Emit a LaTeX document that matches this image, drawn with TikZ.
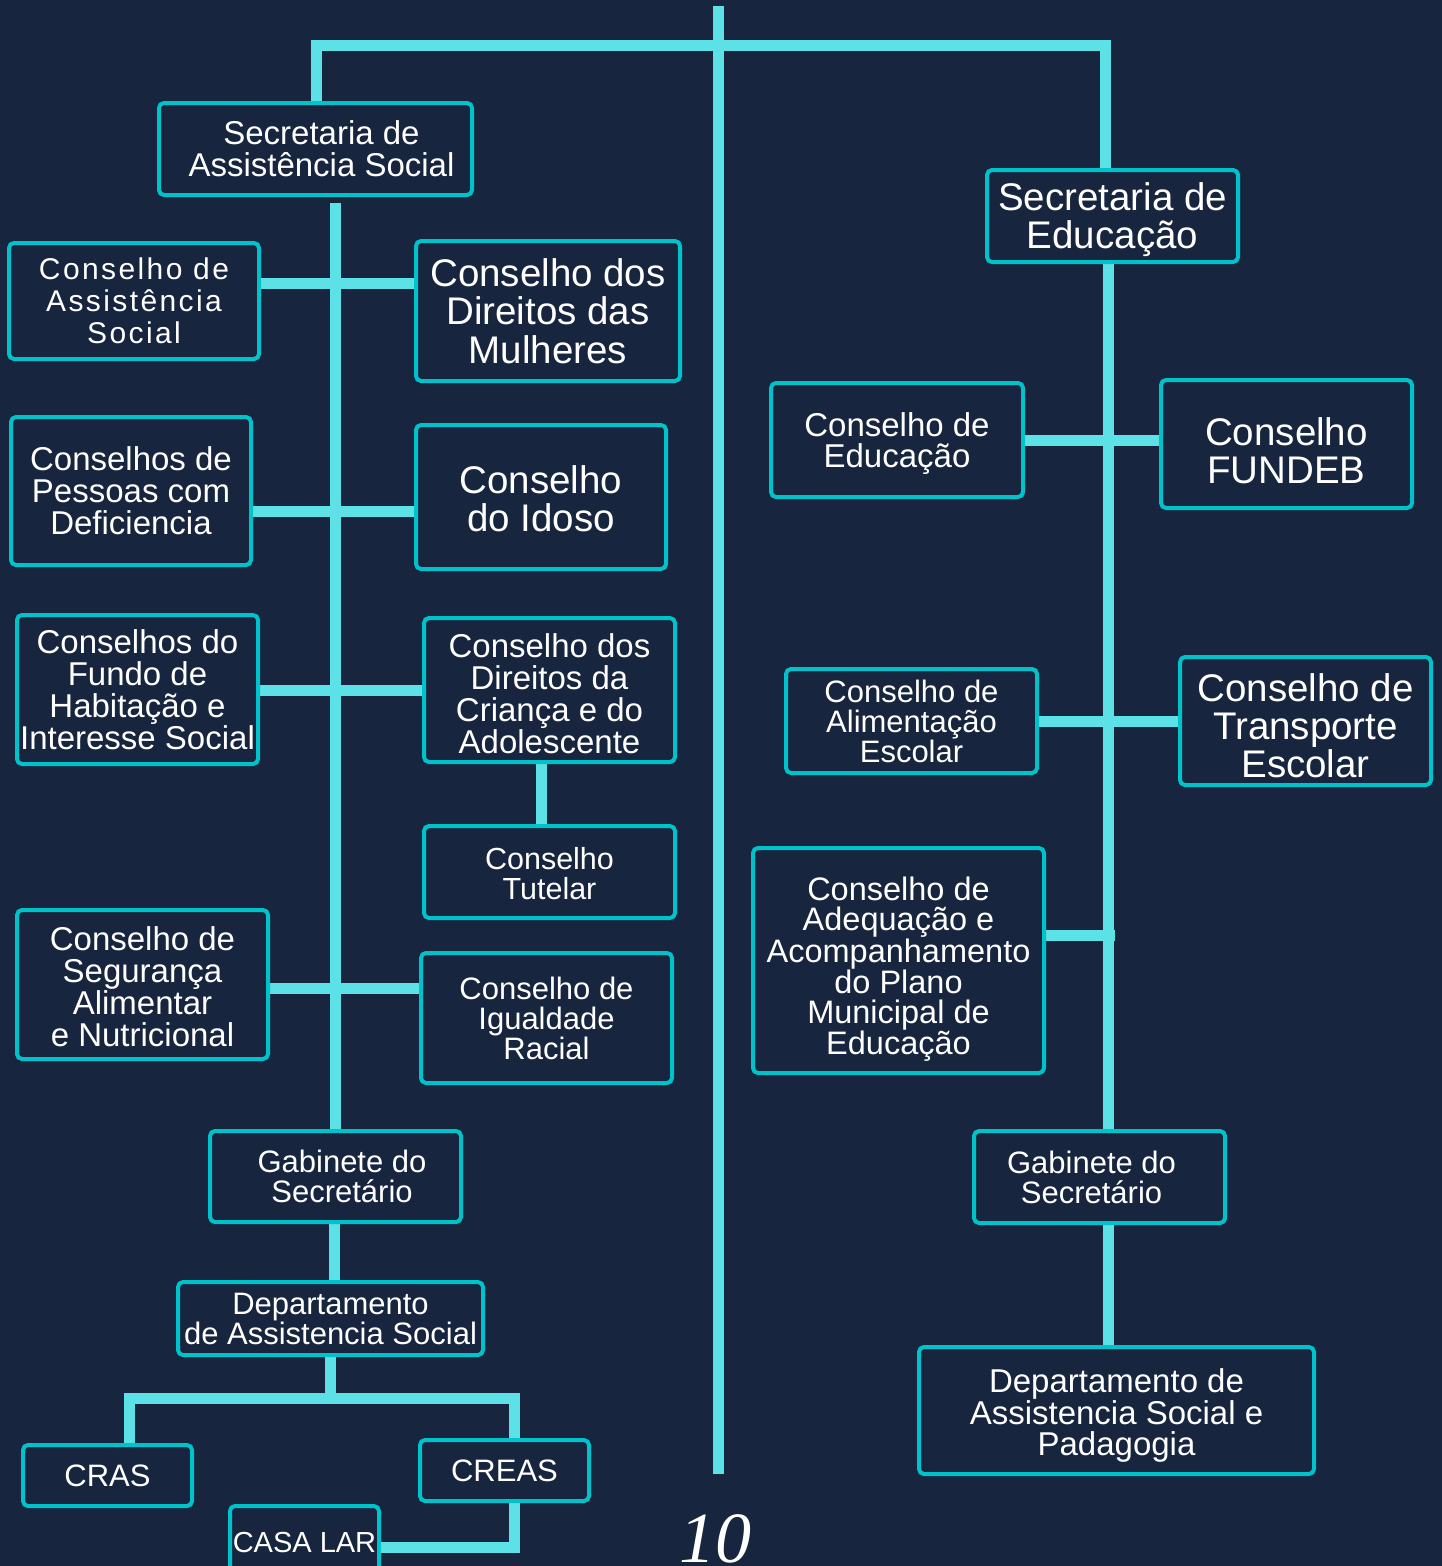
\documentclass[tikz,border=0pt]{standalone}
\usepackage{fontspec}
\setmainfont{Liberation Sans}
\newfontfamily\lsfont{Liberation Sans}[LetterSpace=8]
\newfontfamily\pgnum{Liberation Serif}
\usetikzlibrary{calc}
\definecolor{bgc}{HTML}{17253F}
\definecolor{linec}{HTML}{5CE1E6}
\definecolor{boxc}{HTML}{00C2CB}
\pgfdeclarelayer{back}
\pgfdeclarelayer{bg}
\pgfsetlayers{back,bg,main}
\newcommand\tdn[1]{\leavevmode\vrule width 0pt height \dimexpr0.73em+#1pt\relax}
\begin{document}
\begin{tikzpicture}[x=1pt,y=-1pt,
 box/.style={draw=boxc, line width=4pt, rounded corners=5pt, fill=bgc, text=white, align=center, inner sep=0pt},
 conn/.style={draw=linec, line width=11pt},
]
\begin{pgfonlayer}{back}
\fill[bgc] (0,0) rectangle (1442,1566);
\end{pgfonlayer}
\useasboundingbox (0,0) rectangle (1442,1566);

% ---------- left side boxes ----------
\node[box, minimum width=313pt, minimum height=92pt, font=\fontsize{33}{32}\selectfont] (secas) at (315.5,149) {\hspace*{12pt}Secretaria de\\\hspace*{12pt}Assistência Social};
\node[box, minimum width=250pt, minimum height=116pt, font=\lsfont\fontsize{30}{32}\selectfont] (cas) at (134,301) {Conselho de\\Assistência\\Social};
\node[box, minimum width=264pt, minimum height=140pt, font=\fontsize{38.5}{38.5}\selectfont] (mulh) at (548,311) {Conselho dos\\Direitos das\\Mulheres};
\node[box, minimum width=240pt, minimum height=148pt, font=\fontsize{33}{32}\selectfont] (pcd) at (131,491) {Conselhos de\\Pessoas com\\Deficiencia};
\node[box, minimum width=250pt, minimum height=144pt, font=\fontsize{38.5}{38}\selectfont] (idoso) at (541,497) {\tdn{4}Conselho\\do Idoso};
\node[box, minimum width=241pt, minimum height=149pt, font=\fontsize{33}{32}\selectfont] (hab) at (137.5,689.5) {Conselhos do\\Fundo de\\Habitação e\\Interesse Social};
\node[box, minimum width=251pt, minimum height=144pt, font=\fontsize{33}{32}\selectfont] (crianca) at (549.5,690) {\tdn{8}Conselho dos\\Direitos da\\Criança e do\\Adolescente};
\node[box, minimum width=251pt, minimum height=92pt, font=\fontsize{30.5}{30}\selectfont] (tutelar) at (549.5,872) {\tdn{4}Conselho\\Tutelar};
\node[box, minimum width=251pt, minimum height=149pt, font=\fontsize{33}{32}\selectfont] (seg) at (142.5,984.5) {\tdn{4}Conselho de\\Segurança\\Alimentar\\e Nutricional};
\node[box, minimum width=251pt, minimum height=130pt, font=\fontsize{31}{30}\selectfont] (igual) at (546.5,1018) {Conselho de\\Igualdade\\Racial};
\node[box, minimum width=251pt, minimum height=91pt, font=\fontsize{31}{30}\selectfont] (gabl) at (335.5,1176.5) {\hspace*{13pt}Gabinete do\\\hspace*{13pt}Secretário};
\node[box, minimum width=305pt, minimum height=73pt, font=\fontsize{31}{30}\selectfont] (depl) at (330.5,1318.5) {Departamento\\de Assistencia Social};
\node[box, minimum width=169pt, minimum height=61pt, font=\fontsize{31}{30}\selectfont] (cras) at (107.5,1475.5) {CRAS};
\node[box, minimum width=169pt, minimum height=61pt, font=\fontsize{31}{30}\selectfont] (creas) at (504.5,1470.5) {CREAS};
\node[box, minimum width=149pt, minimum height=72pt, font=\fontsize{29}{30}\selectfont] (casa) at (304.5,1542) {CASA LAR};

% ---------- right side boxes ----------
\node[box, minimum width=251pt, minimum height=92pt, font=\fontsize{38.5}{38}\selectfont] (secedu) at (1112.5,216) {\tdn{8}Secretaria de\\Educação};
\node[box, minimum width=252pt, minimum height=114pt, font=\fontsize{33}{31}\selectfont] (cedu) at (897,440) {\tdn{6}Conselho de\\Educação};
\node[box, minimum width=251pt, minimum height=128pt, font=\fontsize{38.5}{38}\selectfont] (fundeb) at (1286.5,444) {\tdn{14}Conselho\\FUNDEB};
\node[box, minimum width=251pt, minimum height=104pt, font=\fontsize{31}{30}\selectfont] (alim) at (911.5,721) {Conselho de\\Alimentação\\Escolar};
\node[box, minimum width=251pt, minimum height=128pt, font=\fontsize{38.5}{38}\selectfont] (transp) at (1305.5,721) {\tdn{10}Conselho de\\Transporte\\Escolar};
\node[box, minimum width=291pt, minimum height=225pt, font=\fontsize{32.5}{30}\selectfont] (adeq) at (898.5,960.5) {\tdn{18}Conselho de\\Adequação e\\Acompanhamento\\do Plano\\Municipal de\\Educação};
\node[box, minimum width=251pt, minimum height=92pt, font=\fontsize{31}{30}\selectfont] (gabr) at (1099.5,1177) {Gabinete do\hspace*{16pt}\\Secretário\hspace*{16pt}};
\node[box, minimum width=395pt, minimum height=127pt, font=\fontsize{33}{31.5}\selectfont] (depr) at (1116.5,1410.5) {\tdn{10}Departamento de\\Assistencia Social e\\Padagogia};

% page number
\node[anchor=base, text=white, inner sep=0pt, font=\pgnum\itshape\fontsize{72}{72}\selectfont] (pnum) at (715,1562) {10};

% ---------- connectors ----------
\coordinate (cT) at (718,6);
\coordinate (cB) at (718,1474);
\coordinate (topL) at (316,45);
\coordinate (topR) at (1105,45);
\coordinate (spL) at (335,0);
\coordinate (spR) at (1108,0);
\coordinate (b1) at (335,283);
\coordinate (b2) at (335,511);
\coordinate (b3) at (335,690);
\coordinate (b4) at (335,988);
\coordinate (c5) at (541,0);
\coordinate (g1) at (334,0);
\coordinate (k0) at (330,1398);
\coordinate (k1) at (129,1398);
\coordinate (k2) at (514,1398);
\coordinate (k3) at (514,1547);
\coordinate (r1) at (1108,440);
\coordinate (r2) at (1108,721);
\coordinate (r3) at (1115,935);

\begin{pgfonlayer}{bg}
\draw[conn] (cT) -- (cB);
\draw[conn] (secas.north -| topL) -- (topL) -- (topR) -- (secedu.north -| topR);
\draw[conn] ($(secas.south -| spL)+(0,6)$) -- (gabl.north -| spL);
\draw[conn] (cas.east |- b1) -- (mulh.west |- b1);
\draw[conn] (pcd.east |- b2) -- (idoso.west |- b2);
\draw[conn] (hab.east |- b3) -- (crianca.west |- b3);
\draw[conn] (seg.east |- b4) -- (igual.west |- b4);
\draw[conn] (crianca.south -| c5) -- (tutelar.north -| c5);
\draw[conn] (gabl.south -| g1) -- (depl.north -| g1);
\draw[conn] (depl.south -| k0) -- (k0);
\draw[conn] (cras.north -| k1) -- (k1) -- (k2) -- (creas.north -| k2);
\draw[conn] (creas.south -| k3) -- (k3) -- (casa.east |- k3);
\draw[conn] (secedu.south -| spR) -- (gabr.north -| spR);
\draw[conn] (cedu.east |- r1) -- (fundeb.west |- r1);
\draw[conn] (alim.east |- r2) -- (transp.west |- r2);
\draw[conn] (adeq.east |- r3) -- (r3);
\draw[conn] (gabr.south -| spR) -- (depr.north -| spR);
\end{pgfonlayer}
\end{tikzpicture}
\end{document}
